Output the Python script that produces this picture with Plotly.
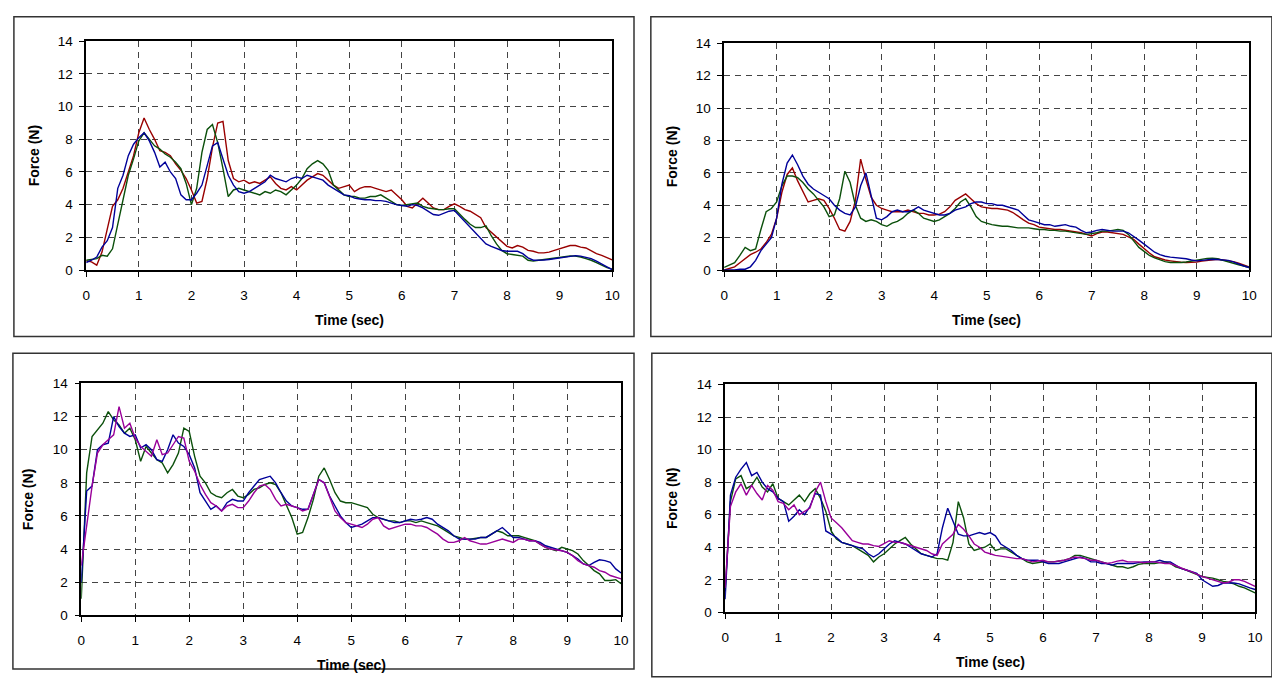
import numpy as np
import plotly.graph_objects as go

# ---------------- data (force in N, sampled every 0.1 s) ----------------
time_s = [round(i * 0.1, 1) for i in range(101)]
x_ticks = list(range(0, 11))
y_ticks = list(range(0, 15, 2))

tl_red = [0.56,0.5,0.3,1.1,2.5,3.9,4.3,5.0,6.0,7.0,
          8.4,9.3,8.6,8.0,7.3,7.2,7.0,6.5,6.1,5.6,
          4.9,4.1,4.2,5.6,7.5,9.0,9.1,6.7,5.6,5.4,
          5.5,5.3,5.4,5.3,5.5,5.7,5.3,5.0,4.9,5.1,
          4.9,5.2,5.5,5.7,5.9,5.8,5.5,5.2,5.0,5.1,
          5.2,4.8,5.0,5.1,5.1,5.0,4.9,4.8,4.9,4.6,
          4.3,3.9,3.8,4.1,4.4,4.1,3.8,3.7,3.7,3.9,
          4.05,3.9,3.7,3.6,3.4,3.2,2.6,2.3,2.0,1.7,
          1.45,1.35,1.5,1.4,1.2,1.15,1.05,1.05,1.1,1.2,
          1.3,1.4,1.5,1.5,1.4,1.35,1.2,1.0,0.9,0.75,
          0.62]
tl_green = [0.6,0.65,0.7,0.9,0.85,1.3,2.8,4.4,5.8,6.8,
            7.9,8.4,8.0,7.6,7.4,7.1,6.9,6.6,6.2,5.3,
            4.0,5.0,7.2,8.6,8.9,7.8,6.2,4.5,4.9,5.0,
            4.9,4.8,4.7,4.6,4.8,4.7,4.9,4.8,4.6,4.9,
            5.2,5.6,6.2,6.5,6.7,6.5,6.1,5.2,4.9,4.6,
            4.5,4.5,4.4,4.4,4.5,4.5,4.6,4.4,4.2,4.0,
            3.95,4.0,4.05,4.1,3.9,3.8,3.75,3.7,3.7,3.75,
            3.75,3.4,3.1,2.8,2.6,2.6,2.7,2.1,1.6,1.2,
            1.0,0.95,0.9,0.85,0.6,0.55,0.6,0.65,0.7,0.75,
            0.8,0.85,0.86,0.85,0.8,0.7,0.6,0.45,0.3,0.15,
            0.06]
tl_blue = [0.46,0.6,0.8,1.4,1.8,2.6,5.0,5.8,7.0,7.7,
           8.1,8.4,7.9,7.2,6.3,6.6,6.0,5.6,4.6,4.3,
           4.3,4.7,5.2,6.4,7.6,7.8,6.8,5.8,5.2,4.8,
           4.7,4.8,5.0,5.2,5.4,5.8,5.6,5.5,5.4,5.6,
           5.7,5.6,5.8,5.7,5.6,5.5,5.2,5.0,4.8,4.6,
           4.55,4.4,4.35,4.3,4.3,4.25,4.25,4.2,4.1,4.0,
           3.95,3.9,4.0,3.95,3.8,3.6,3.4,3.35,3.5,3.6,
           3.65,3.3,3.0,2.6,2.25,1.9,1.6,1.45,1.3,1.2,
           1.15,1.15,1.15,1.0,0.75,0.6,0.6,0.62,0.65,0.7,
           0.75,0.82,0.86,0.88,0.85,0.78,0.7,0.55,0.4,0.2,
           0.02]

tr_blue = [0.0,0.0,0.0,0.05,0.05,0.2,0.6,1.2,1.6,2.0,
           3.2,5.3,6.6,7.1,6.5,5.8,5.3,5.0,4.8,4.6,
           4.4,4.0,3.7,3.5,3.4,3.9,5.2,6.0,4.6,3.2,
           3.1,3.3,3.6,3.7,3.6,3.6,3.7,3.9,3.7,3.6,
           3.5,3.4,3.4,3.5,3.7,3.8,3.9,4.1,4.2,4.2,
           4.1,4.1,4.0,4.0,3.9,3.8,3.7,3.4,3.1,3.0,
           2.9,2.8,2.8,2.7,2.75,2.8,2.7,2.65,2.45,2.3,
           2.35,2.45,2.5,2.45,2.4,2.4,2.4,2.3,2.1,1.85,
           1.6,1.35,1.1,0.95,0.85,0.8,0.78,0.75,0.7,0.62,
           0.57,0.6,0.65,0.67,0.65,0.62,0.6,0.5,0.37,0.25,
           0.16]
tr_red = [0.0,0.1,0.2,0.45,0.7,0.95,1.1,1.3,1.7,2.2,
          3.2,4.8,5.9,6.3,5.5,4.8,4.2,4.3,4.4,4.3,
          3.8,3.2,2.5,2.4,3.0,4.3,6.85,5.6,4.5,4.0,
          3.8,3.7,3.6,3.6,3.6,3.7,3.6,3.5,3.5,3.4,
          3.4,3.45,3.6,3.9,4.3,4.5,4.7,4.4,4.1,3.9,
          3.85,3.8,3.8,3.75,3.7,3.55,3.3,3.1,2.9,2.8,
          2.65,2.6,2.55,2.5,2.5,2.45,2.4,2.35,2.3,2.2,
          2.1,2.25,2.35,2.35,2.3,2.25,2.2,2.05,1.9,1.6,
          1.3,1.05,0.82,0.7,0.62,0.57,0.52,0.48,0.47,0.48,
          0.5,0.55,0.6,0.65,0.67,0.62,0.58,0.52,0.42,0.3,
          0.2]
tr_green = [0.16,0.3,0.45,0.9,1.4,1.2,1.3,2.5,3.6,3.8,
            4.2,5.2,5.8,5.8,5.7,5.4,5.0,4.7,4.3,3.9,
            3.3,3.4,4.4,6.1,5.4,4.0,3.2,3.0,3.1,3.0,
            2.8,2.7,2.9,3.0,3.2,3.5,3.7,3.5,3.2,3.1,
            3.0,3.1,3.3,3.5,3.8,4.2,4.4,3.9,3.3,3.0,
            2.9,2.8,2.75,2.7,2.7,2.65,2.6,2.6,2.6,2.55,
            2.5,2.5,2.45,2.45,2.4,2.4,2.35,2.3,2.25,2.2,
            2.25,2.3,2.4,2.4,2.45,2.5,2.45,2.2,1.8,1.4,
            1.15,0.9,0.75,0.62,0.52,0.47,0.46,0.47,0.5,0.55,
            0.62,0.68,0.72,0.73,0.7,0.6,0.5,0.42,0.33,0.25,
            0.16]

bl_green = [1.0,8.6,10.8,11.2,11.6,12.3,11.8,11.5,11.0,11.3,
            10.6,9.3,10.2,9.8,9.4,9.2,8.6,9.1,9.8,11.3,
            11.1,9.6,8.4,8.0,7.4,7.2,7.1,7.4,7.6,7.2,
            7.1,7.3,7.6,7.7,7.9,8.0,7.9,7.4,6.6,5.9,
            4.9,5.0,5.9,7.0,8.4,8.9,8.2,7.4,6.9,6.8,
            6.8,6.7,6.6,6.5,6.1,5.9,5.8,5.7,5.7,5.6,
            5.7,5.7,5.6,5.7,5.6,5.5,5.4,5.2,5.0,4.8,
            4.7,4.6,4.6,4.65,4.7,4.7,4.9,5.1,5.0,4.8,
            4.8,4.8,4.7,4.6,4.5,4.3,4.1,4.0,3.9,4.1,
            4.0,3.9,3.7,3.3,3.0,2.7,2.5,2.1,2.1,2.15,
            1.9]
bl_blue = [2.0,7.5,7.8,10.0,10.3,10.4,12.0,11.4,11.0,10.8,
           10.9,10.1,10.3,10.0,9.4,9.3,10.0,10.9,10.4,10.2,
           9.7,8.9,7.4,6.9,6.4,6.6,6.3,6.8,7.0,6.9,
           6.9,7.4,7.8,8.2,8.3,8.4,8.0,7.4,6.9,6.6,
           6.5,6.4,6.4,7.3,8.2,8.0,7.2,6.6,6.0,5.6,
           5.3,5.4,5.5,5.7,5.9,5.9,5.8,5.7,5.6,5.6,
           5.7,5.8,5.75,5.8,5.9,5.8,5.5,5.3,5.1,4.8,
           4.6,4.6,4.6,4.6,4.7,4.7,4.9,5.1,5.3,5.0,
           4.7,4.7,4.6,4.5,4.5,4.4,4.2,4.1,4.0,3.9,
           3.8,3.6,3.4,3.1,3.0,3.2,3.35,3.3,3.2,2.8,
           2.55]
bl_magenta = [3.0,5.5,7.8,9.8,10.3,10.6,10.9,12.6,11.3,11.6,
              10.7,10.2,9.9,9.6,10.6,9.7,9.8,10.3,10.8,10.7,
              9.3,8.7,7.9,7.3,6.8,6.6,6.3,6.6,6.7,6.5,
              6.5,6.9,7.4,7.8,7.9,7.6,7.0,6.6,6.7,6.6,
              6.5,6.3,6.4,7.3,8.2,8.0,7.2,6.3,5.9,5.6,
              5.5,5.4,5.3,5.5,5.8,5.9,5.4,5.2,5.3,5.4,
              5.5,5.5,5.4,5.4,5.3,5.1,4.9,4.6,4.4,4.4,
              4.5,4.7,4.5,4.4,4.3,4.3,4.4,4.5,4.6,4.5,
              4.4,4.6,4.6,4.5,4.5,4.3,4.1,4.0,3.95,3.9,
              3.8,3.6,3.3,3.1,3.0,2.9,2.7,2.6,2.4,2.3,
              2.2]

br_green = [1.3,6.8,8.2,8.4,7.6,7.8,8.3,7.7,7.4,7.9,
            7.0,6.8,6.6,6.9,7.2,6.8,7.3,7.6,7.0,6.2,
            5.0,4.5,4.3,4.2,4.1,3.9,3.7,3.5,3.1,3.4,
            3.6,3.9,4.2,4.4,4.6,4.2,3.9,3.6,3.5,3.4,
            3.3,3.3,3.2,4.3,6.8,5.8,4.2,3.8,3.9,4.0,
            4.2,3.8,3.9,3.9,3.7,3.5,3.3,3.1,3.0,3.05,
            3.1,3.1,3.1,3.15,3.2,3.3,3.5,3.5,3.4,3.3,
            3.2,3.1,3.0,2.9,2.8,2.8,2.7,2.8,2.95,3.0,
            3.0,3.0,3.05,3.1,3.0,2.8,2.7,2.6,2.45,2.3,
            2.2,2.15,2.1,2.0,1.9,1.85,1.75,1.6,1.5,1.35,
            1.2]
br_blue = [0.8,7.2,8.3,8.8,9.2,8.4,8.6,8.0,7.6,7.4,
           7.0,6.8,5.6,5.9,6.3,6.0,6.5,7.3,7.2,5.0,
           4.8,4.6,4.3,4.2,4.1,4.0,3.9,3.6,3.4,3.6,
           3.9,4.2,4.4,4.3,4.2,4.0,3.8,3.6,3.5,3.4,
           3.6,5.2,6.4,5.6,4.8,4.7,4.7,4.8,4.9,4.8,
           4.9,4.7,4.2,4.0,3.8,3.5,3.3,3.2,3.2,3.2,
           3.1,3.0,3.0,3.0,3.1,3.2,3.3,3.4,3.3,3.1,
           3.1,3.0,3.0,2.9,3.0,3.0,3.0,3.0,3.05,3.1,
           3.1,3.1,3.2,3.1,3.1,2.9,2.7,2.6,2.5,2.4,
           2.0,1.8,1.6,1.65,1.8,1.8,1.8,1.75,1.6,1.5,
           1.4]
br_magenta = [1.5,6.5,7.4,7.9,7.2,7.8,7.3,6.9,7.8,7.5,
              6.8,6.7,6.3,6.6,6.0,6.2,6.4,7.4,8.0,6.8,
              5.8,5.5,5.2,4.8,4.4,4.3,4.2,4.2,4.1,4.05,
              4.2,4.4,4.3,4.3,4.2,4.1,4.0,3.9,3.8,3.6,
              3.5,4.2,4.5,4.8,5.4,5.1,4.7,4.2,4.0,3.7,
              3.6,3.5,3.45,3.4,3.35,3.3,3.3,3.2,3.1,3.15,
              3.2,3.1,3.1,3.15,3.2,3.3,3.4,3.35,3.3,3.2,
              3.2,3.1,3.0,3.05,3.15,3.2,3.1,3.1,3.1,3.05,
              3.1,3.1,3.05,3.0,3.0,2.85,2.7,2.6,2.5,2.35,
              2.2,2.1,2.0,1.9,1.8,1.85,2.0,2.0,1.9,1.75,
              1.6]

# ---------------- styling ----------------
W, H = 1272, 679
RED, GREEN, BLUE, MAGENTA = "#990000", "#0b500b", "#000099", "#990099"
FONT = "Liberation Sans, Arial, sans-serif"


def fx(px):
    return px / W


def fy(py):
    return 1 - py / H


panels = {
    # name: (x0px, x1px, ytop_px, ybottom_px)
    "1": (83, 614, 35, 269),
    "2": (727, 1257, 37, 269),
    "3": (78, 623, 385, 622),
    "4": (728, 1263, 386, 619),
}

series = {
    "1": [(tl_red, RED), (tl_green, GREEN), (tl_blue, BLUE)],
    "2": [(tr_red, RED), (tr_green, GREEN), (tr_blue, BLUE)],
    "3": [(bl_green, GREEN), (bl_blue, BLUE), (bl_magenta, MAGENTA)],
    "4": [(br_green, GREEN), (br_blue, BLUE), (br_magenta, MAGENTA)],
}

fig = go.Figure()
layout = dict(
    width=W, height=H, margin=dict(l=0, r=0, t=0, b=0), autosize=False,
    paper_bgcolor="white", plot_bgcolor="white", showlegend=False,
    font=dict(family=FONT, size=13, color="black"),
)

annotations = []
shapes = []
TICKFONT = dict(family=FONT, size=13.5, color="black")
TITLEFONT = dict(family=FONT, size=14, color="black")

for k, (x0, x1, yt, yb) in panels.items():
    xa = "xaxis" if k == "1" else f"xaxis{k}"
    ya = "yaxis" if k == "1" else f"yaxis{k}"
    xr = "x" if k == "1" else f"x{k}"
    yr = "y" if k == "1" else f"y{k}"
    common = dict(
        showgrid=True, gridcolor="#444444", gridwidth=1, griddash="6px,5px",
        showline=True, linecolor="black", linewidth=1.5, mirror=True,
        ticks="outside", ticklen=5, tickcolor="black", tickwidth=1,
        tickfont=TICKFONT, zeroline=False, fixedrange=True,
    )
    layout[xa] = dict(common, domain=[fx(x0), fx(x1)], anchor=yr,
                      range=[0, 10], tickvals=x_ticks, ticklabelstandoff=7)
    layout[ya] = dict(common, domain=[fy(yb), fy(yt)], anchor=xr,
                      range=[0, 14], tickvals=y_ticks, ticklabelstandoff=4)
    for vals, col in series[k]:
        fig.add_trace(go.Scatter(x=time_s, y=vals, mode="lines",
                                 line=dict(color=col, width=1.4),
                                 xaxis=xr, yaxis=yr, hoverinfo="skip"))
    # axis titles
    annotations.append(dict(text="<b>Time (sec)</b>", xref="paper", yref="paper",
                            x=fx((x0 + x1) / 2), y=fy(yb + 51), showarrow=False,
                            font=TITLEFONT, xanchor="center", yanchor="middle"))
    annotations.append(dict(text="<b>Force (N)</b>", xref="paper", yref="paper",
                            x=fx(x0 - 53), y=fy((yt + yb) / 2), showarrow=False,
                            textangle=-90, font=TITLEFONT,
                            xanchor="center", yanchor="middle"))

# panel frames
frames = [(10, 636, 10, 337), (653, 1280, 10, 337),
          (9, 636, 354, 677), (654, 1280, 354, 685)]
for (a, b, t, btm) in frames:
    shapes.append(dict(type="rect", xref="paper", yref="paper",
                       x0=fx(a), x1=fx(b), y0=fy(btm), y1=fy(t),
                       line=dict(color="#333333", width=1.5),
                       fillcolor="rgba(0,0,0,0)", layer="below"))

layout["annotations"] = annotations
layout["shapes"] = shapes
fig.update_layout(**layout)
fig.write_html(
    "out.html",
    config={"displayModeBar": False, "responsive": False},
    post_script="document.body.style.margin='0';document.body.style.overflow='hidden';",
)
